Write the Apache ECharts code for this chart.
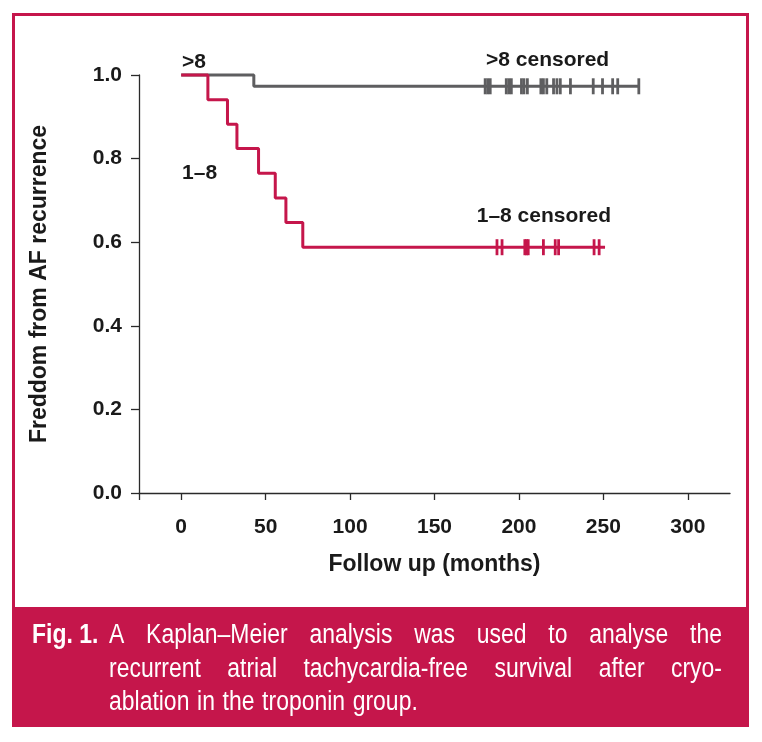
<!DOCTYPE html>
<html>
<head>
<meta charset="utf-8">
<script src="https://cdn.jsdelivr.net/npm/echarts@6/dist/echarts.min.js"></script>
<style>
  html, body { margin: 0; padding: 0; background: #fff; }
  #main { width: 762px; height: 742px; }
</style>
</head>
<body>
<div id="main"></div>
<script>
// Kaplan-Meier curves
const redTimes = [0, 15.8, 27.4, 33, 45.8, 55.7, 62, 72, 251];
const redSurv = [1, 0.941, 0.882, 0.824, 0.765, 0.706, 0.647, 0.588, 0.588];
const grayTimes = [0, 43, 271];
const graySurv = [1, 0.973, 0.973];
const redCensored = [187, 190, 203.5, 204.5, 205.5, 214.5, 221.5, 223.5, 244.5, 247.5];
const grayCensored = [180, 181.5, 183, 192.5, 194, 195.5, 201.5, 203, 205, 213, 214.5, 216.5,
  220.5, 222.5, 224.5, 230.5, 244, 249.5, 255.5, 258.5, 271];
const xTickValues = [0, 50, 100, 150, 200, 250, 300];
const groupNames = ['>8', '1–8'];
const captionLabel = 'Fig. 1.';
const captionLines = [
  'A Kaplan–Meier analysis was used to analyse the',
  'recurrent atrial tachycardia-free survival after cryo-',
  'ablation in the troponin group.'
];

const RED = '#c5164b';
const GRAY = '#5e5e60';
const AXIS = '#2a2a2a';
const FONT = "'Liberation Sans', Arial, sans-serif";

function stepValue(times, surv, t) {
  let v = surv[0];
  for (let i = 0; i < times.length; i++) {
    if (times[i] <= t) v = surv[i];
  }
  return v;
}

const redLine = redTimes.map((t, i) => [t, redSurv[i]]);
const grayLine = grayTimes.map((t, i) => [t, graySurv[i]]);
const redMarks = redCensored.map(t => [t, stepValue(redTimes, redSurv, t)]);
const grayMarks = grayCensored.map(t => [t, stepValue(grayTimes, graySurv, t)]);

// caption words, squeezed to look condensed and justified by hand
const measureCtx = document.createElement('canvas').getContext('2d');
function captionGraphics() {
  const size = 27;
  const squeeze = 0.85;
  const font = size + 'px ' + FONT;
  const left = 109, right = 722;
  const lineY = [636, 670, 703];
  const out = [{
    type: 'text', x: 32, y: lineY[0], z: 10, scaleX: squeeze,
    style: { text: captionLabel, fill: '#fff', font: 'bold ' + font, verticalAlign: 'middle' }
  }];
  measureCtx.font = font;
  captionLines.forEach((line, li) => {
    const words = line.split(' ');
    const widths = words.map(w => measureCtx.measureText(w).width * squeeze);
    const total = widths.reduce((a, b) => a + b, 0);
    const last = li === captionLines.length - 1;
    const gap = last ? measureCtx.measureText(' ').width * squeeze * 1.2 : (right - left - total) / (words.length - 1);
    let x = left;
    words.forEach((w, wi) => {
      out.push({
        type: 'text', x: x, y: lineY[li], z: 10, scaleX: squeeze,
        style: { text: w, fill: '#fff', font: font, verticalAlign: 'middle' }
      });
      x += widths[wi] + gap;
    });
  });
  return out;
}

const chart = echarts.init(document.getElementById('main'), null, { renderer: 'canvas' });

const textLabel = {
  show: true, position: 'right', distance: 0,
  formatter: p => p.name, color: '#1a1a1a',
  fontFamily: FONT, fontWeight: 'bold', fontSize: 21
};

const option = {
  animation: false,
  backgroundColor: '#fff',
  grid: { left: 139, right: 32, top: 75, bottom: 249 },
  xAxis: {
    type: 'value', min: -25, max: 325,
    name: 'Follow up (months)', nameLocation: 'middle', nameGap: 60,
    nameTextStyle: { fontFamily: FONT, fontWeight: 'bold', fontSize: 23, color: '#1a1a1a' },
    axisLine: { onZero: false, lineStyle: { color: AXIS, width: 1.3 } },
    axisTick: { show: true, length: 7, customValues: [-25].concat(xTickValues), lineStyle: { color: AXIS, width: 1.3 } },
    axisLabel: { customValues: xTickValues, margin: 24, fontFamily: FONT, fontWeight: 'bold', fontSize: 21, color: '#1a1a1a' },
    splitLine: { show: false }
  },
  yAxis: {
    type: 'value', min: 0, max: 1, interval: 0.2,
    name: 'Freddom from AF recurrence', nameLocation: 'middle', nameGap: 88,
    nameTextStyle: { fontFamily: FONT, fontWeight: 'bold', fontSize: 23, color: '#1a1a1a' },
    axisLine: { show: true, onZero: false, lineStyle: { color: AXIS, width: 1.3 } },
    axisTick: { show: true, length: 8, lineStyle: { color: AXIS, width: 1.3 } },
    axisLabel: { margin: 17, formatter: v => v.toFixed(1), fontFamily: FONT, fontWeight: 'bold', fontSize: 21, color: '#1a1a1a' },
    splitLine: { show: false }
  },
  series: [
    {
      name: groupNames[0], type: 'line', step: 'end', data: grayLine,
      symbol: 'none', clip: false, z: 3,
      lineStyle: { color: GRAY, width: 3 }
    },
    {
      name: groupNames[1], type: 'line', step: 'end', data: redLine,
      symbol: 'none', clip: false, z: 4,
      lineStyle: { color: RED, width: 3 }
    },
    {
      name: groupNames[0] + ' censored', type: 'scatter', data: grayMarks,
      symbol: 'rect', symbolSize: [2.8, 16], clip: false, z: 5,
      itemStyle: { color: GRAY, opacity: 1 }
    },
    {
      name: groupNames[1] + ' censored', type: 'scatter', data: redMarks,
      symbol: 'rect', symbolSize: [2.8, 16], clip: false, z: 5,
      itemStyle: { color: RED, opacity: 1 }
    },
    {
      type: 'scatter', symbolSize: 0, clip: false, silent: true, z: 6,
      itemStyle: { opacity: 1 },
      label: textLabel,
      data: [
        { name: groupNames[0], value: [0.5, 1.031] },
        { name: groupNames[0] + ' censored', value: [180.5, 1.036] },
        { name: groupNames[1], value: [0.5, 0.766] },
        { name: groupNames[1] + ' censored', value: [175, 0.663] }
      ]
    }
  ],
  graphic: [
    {
      type: 'rect', z: 0, silent: true,
      shape: { x: 13.5, y: 14.5, width: 734, height: 711 },
      style: { fill: 'none', stroke: RED, lineWidth: 3 }
    },
    {
      type: 'rect', z: 1, silent: true,
      shape: { x: 12, y: 607, width: 737, height: 120 },
      style: { fill: RED }
    }
  ].concat(captionGraphics())
};

chart.setOption(option);
</script>
</body>
</html>
